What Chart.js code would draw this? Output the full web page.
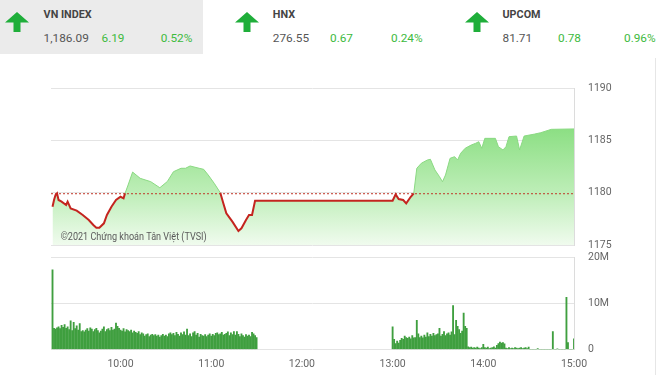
<!DOCTYPE html>
<html>
<head>
<meta charset="utf-8">
<script src="https://cdn.jsdelivr.net/npm/chart.js@4.4.0/dist/chart.umd.min.js"></script>
<style>
  body { margin: 0; width: 660px; height: 375px; background: #fff; font-family: Roboto, 'Noto Sans', sans-serif; overflow: hidden; position: relative; }
  .panel-bg { position: absolute; left: 0; top: 0; width: 203px; height: 54px; background: #ebebeb; }
  .arrow { position: absolute; top: 12px; width: 24px; height: 20px; }
  .txt { position: absolute; white-space: nowrap; line-height: 1; }
  .name { font-weight: bold; font-size: 10.8px; color: #444; top: 10.2px; }
  .val { font-size: 11.8px; color: #555; top: 33.4px; }
  .up { color: #3dba3d; }
  .side { position: absolute; left: 655px; top: 58px; width: 1px; height: 317px; background: #e6e6e6; }
  canvas { position: absolute; left: 0; }
</style>
</head>
<body>
<div class="panel-bg"></div>
<div id="header"></div>
<div class="side"></div>
<canvas id="priceChart" width="660" height="176" style="top:78px"></canvas>
<canvas id="volumeChart" width="660" height="125" style="top:250px"></canvas>
<script>
// header data
const indexNames = ['VN INDEX', 'HNX', 'UPCOM'];
const indexValues = ['1,186.09', '276.55', '81.71'];
const indexChanges = ['6.19', '0.67', '0.78'];
const indexPercents = ['0.52%', '0.24%', '0.96%'];

// price line (time, index value)
const lineTimes = [
  '9:15', '9:16', '9:17', '9:18', '9:19', '9:21', '9:24', '9:25', '9:27', '9:31',
  '9:35', '9:39', '9:42', '9:44', '9:46', '9:49', '9:51', '9:54', '9:57', '10:00',
  '10:02', '10:03', '10:05', '10:08', '10:13', '10:20', '10:26', '10:31', '10:35', '10:40',
  '10:43', '10:46', '10:52', '10:55', '10:58', '11:02', '11:06', '11:08', '11:10', '11:14',
  '11:18', '11:20', '11:23', '11:25', '11:27', '11:29', '11:30',
  '13:00', '13:02', '13:04', '13:07', '13:09', '13:12', '13:14', '13:16', '13:19', '13:23',
  '13:25', '13:28', '13:31', '13:33', '13:35', '13:38', '13:41', '13:43', '13:45', '13:48',
  '13:52', '13:55', '13:57', '13:59', '14:01', '14:08', '14:10', '14:13', '14:15', '14:17',
  '14:22', '14:24', '14:27', '14:34', '14:38', '14:45', '15:00'
];
const lineValues = [
  1178.66, 1179.30, 1179.78, 1179.94, 1179.30, 1179.14, 1178.82, 1179.14, 1178.50, 1178.28,
  1177.87, 1177.39, 1176.91, 1176.65, 1176.65, 1177.07, 1177.87, 1178.66, 1179.30, 1179.61,
  1179.46, 1179.94, 1180.73, 1181.97, 1181.37, 1181.05, 1180.47, 1181.07, 1182.00, 1182.33,
  1182.33, 1182.55, 1182.33, 1182.23, 1181.69, 1180.89, 1180.00, 1178.98, 1178.03, 1177.23,
  1176.34, 1176.60, 1177.39, 1177.87, 1177.87, 1179.23, 1179.23,
  1179.23, 1179.84, 1179.39, 1179.30, 1178.98, 1179.61, 1179.94, 1182.33, 1182.81, 1183.12,
  1183.19, 1182.17, 1181.53, 1181.05, 1181.69, 1183.28, 1183.44, 1183.12, 1183.76, 1184.24,
  1184.55, 1184.72, 1184.87, 1184.24, 1185.19, 1185.19, 1184.39, 1184.08, 1184.39, 1185.35,
  1185.41, 1184.08, 1185.41, 1185.60, 1185.73, 1186.05, 1186.09
];
const refValue = 1179.90;
const priceTicks = [1175, 1180, 1185, 1190];

// volume per minute, in millions
const volAmStart = '9:15';
const volAm = [
  17.2,
  4.6, 4.4, 4.7, 4.9, 4.5, 5.2, 4.8, 5.4, 4.6, 4.9,
  4.3, 6.2, 4.1, 5.9, 4.5, 5.1, 4.2, 5.6, 3.9, 4.1,
  3.8, 4.2, 4.5, 4.0, 4.7, 4.4, 3.9, 4.3, 4.6, 4.1,
  3.6, 4.0, 4.4, 4.9, 3.9, 4.3, 4.5, 4.1, 4.8, 4.2,
  4.4, 5.7, 5.0, 4.6, 4.2, 4.0, 4.5, 3.8, 4.3, 4.1,
  3.9, 4.2, 3.6, 4.0, 3.7, 3.5, 3.9, 3.2, 3.6, 3.4,
  2.9, 3.2, 3.4, 2.8, 3.1, 3.3, 3.0, 3.2, 2.9, 3.1,
  2.7, 3.0, 3.3, 2.9, 3.1, 2.8, 3.4, 3.6, 3.2, 3.5,
  3.0, 3.7, 3.3, 2.9, 3.6, 3.2, 3.8, 3.1, 4.4, 3.0,
  3.4, 2.8, 3.6, 3.9, 3.1, 3.5, 2.7, 3.3, 3.0, 2.9,
  3.2, 2.8, 3.1, 3.4, 2.9, 3.3, 3.0, 3.5, 3.6, 3.2,
  3.4, 3.7, 3.1, 3.3, 3.5, 3.8, 3.0, 3.6, 3.2, 3.9,
  3.1, 3.9, 3.3, 2.8, 3.4, 3.0, 2.7, 3.2, 2.9, 3.1,
  2.8, 3.7, 3.4, 3.0, 2.6
];
const volPmStart = '13:00';
const volPm = [
  4.9, 2.2, 1.3, 1.8, 1.4, 2.0, 2.4, 2.2, 2.9, 2.6,
  2.4, 2.7, 2.3, 3.0, 2.5, 2.6, 6.3, 3.4, 2.6, 2.9,
  2.5, 3.1, 2.7, 3.6, 2.8, 3.3, 2.9, 3.5, 3.0, 3.2,
  3.4, 4.6, 2.9, 3.3, 3.9, 3.0, 3.4, 3.6, 3.1, 3.8,
  9.5, 3.2, 6.3, 5.0, 4.3, 3.5, 4.0, 7.9, 5.0, 4.6,
  0.6, 0.4, 0.5, 0.3, 0.4, 0.3, 0.5, 0.3, 0.2, 0.4,
  1.1, 0.4, 0.3, 0.5, 0.2, 0.3, 0.4, 0.6, 0.3, 0.9,
  1.3, 1.6, 1.4, 1.5, 1.2, 0.3, 0.2, 0.4, 0.2, 0.3,
  0.2, 0.4, 0.3, 0.2, 0.3, 0.4, 0.2, 0.3, 0.4, 0.2,
  0.5, 0, 0, 0, 0, 0, 0.2, 0, 0, 0,
  0, 0, 0, 0, 0, 0, 3.9, 0, 0, 0.15,
  0, 0, 0, 0, 0, 11.3, 1.5, 0, 0, 0,
  2.3
];
const volTicks = [0, 10, 20];
const volTickLabels = ['0', '10M', '20M'];

const xTickLabels = ['10:00', '11:00', '12:00', '13:00', '14:00', '15:00'];
const xStart = '9:14';
const xEnd = '15:00';

function toMin(s) {
  const [h, m] = s.split(':').map(Number);
  return h * 60 + m;
}
function fmtTime(v) {
  const h = Math.floor(v / 60);
  const m = v % 60;
  return h + ':' + String(m).padStart(2, '0');
}

// header
const arrowLeft = [5, 235, 465];
const nameLeft = [43.6, 272.8, 502.5];
const changeLeft = [101.5, 330, 558];
const pctLeft = [160.7, 391, 624];
const header = document.getElementById('header');
let html = '';
indexNames.forEach((name, i) => {
  html += `<svg class="arrow" style="left:${arrowLeft[i]}px" viewBox="0 0 24 20"><polygon points="12,0 24,10.5 15.5,10.5 15.5,20 8.5,20 8.5,10.5 0,10.5" fill="#1fae3a"/></svg>`;
  html += `<div class="txt name" style="left:${nameLeft[i]}px">${name}</div>`;
  html += `<div class="txt val" style="left:${nameLeft[i]}px">${indexValues[i]}</div>`;
  html += `<div class="txt val up" style="left:${changeLeft[i]}px">${indexChanges[i]}</div>`;
  html += `<div class="txt val up" style="left:${pctLeft[i]}px">${indexPercents[i]}</div>`;
});
header.innerHTML = html;

const xMin = toMin(xStart);
const xMax = toMin(xEnd);
const hourTicks = xTickLabels.map(toMin);

const xScale = (display) => ({
  type: 'linear',
  min: xMin,
  max: xMax,
  offset: false,
  display: display,
  afterBuildTicks: (scale) => {
    scale.ticks = hourTicks.map((v) => ({ value: v }));
  },
  afterFit: (scale) => {
    scale.height = display ? 21 : 0;
  },
  grid: { display: false, drawTicks: false },
  border: { display: false },
  ticks: {
    callback: (v) => fmtTime(v),
    color: '#666',
    font: { family: 'Roboto', size: 10.5 },
    padding: 9,
    maxRotation: 0,
  },
});

// right axis: labels pushed out by an invisible tick so no extra vertical padding
const yAxis = (ticks, labels) => ({
  position: 'right',
  min: ticks[0],
  max: ticks[ticks.length - 1],
  afterBuildTicks: (scale) => {
    scale.ticks = ticks.map((v) => ({ value: v }));
  },
  afterFit: (scale) => {
    scale.width = 86;
  },
  grid: { color: '#e4e4e4', drawTicks: true, tickLength: 14, tickColor: 'rgba(0,0,0,0)' },
  border: { color: '#dcdcdc' },
  ticks: {
    callback: (v) => labels[ticks.indexOf(v)],
    color: '#666',
    font: { family: 'Roboto', size: 10.5 },
    padding: 0,
  },
});

// watermark
const watermark = {
  id: 'watermark',
  afterDatasetsDraw(chart) {
    const c = chart.ctx;
    c.save();
    c.font = '11px Roboto';
    c.fillStyle = '#5a5a5a';
    c.textBaseline = 'middle';
    const text = '©2021 Chứng khoán Tân Việt (TVSI)';
    const w = c.measureText(text).width;
    c.translate(60.7, 159.7);
    c.scale(146 / w, 1);
    c.fillText(text, 0, 0);
    c.restore();
  },
};

const greenLine = '#8ad982';
const redLine = '#c4241f';
const isUp = (ctx) => ctx.p0.parsed.y >= refValue - 0.05 && ctx.p1.parsed.y >= refValue - 0.05;
const pricePoints = lineTimes.map((t, i) => ({ x: toMin(t), y: lineValues[i] }));

const priceChart = new Chart(document.getElementById('priceChart'), {
  type: 'line',
  data: {
    datasets: [
      {
        // reference (previous close)
        data: [{ x: xMin, y: refValue }, { x: xMax, y: refValue }],
        borderColor: '#c0392b',
        borderWidth: 1,
        borderDash: [2, 2],
        pointRadius: 0,
        fill: false,
        order: 1,
      },
      {
        // price line, red under reference
        data: pricePoints,
        pointRadius: 0,
        tension: 0,
        order: 0,
        fill: false,
        borderWidth: 2,
        borderColor: redLine,
        segment: {
          borderColor: (ctx) => (isUp(ctx) ? greenLine : redLine),
          borderWidth: (ctx) => (isUp(ctx) ? 1 : 2),
        },
      },
      {
        // area under the price
        data: pricePoints,
        pointRadius: 0,
        tension: 0,
        order: 2,
        fill: 'start',
        borderWidth: 0,
        backgroundColor: (ctx) => {
          const area = ctx.chart.chartArea;
          if (!area) return '#bfeeb9';
          const g = ctx.chart.ctx.createLinearGradient(0, area.top, 0, area.bottom);
          g.addColorStop(0, 'rgb(108,213,98)');
          g.addColorStop(0.67, 'rgb(190,238,184)');
          g.addColorStop(1, 'rgb(240,251,238)');
          return g;
        },
      },
    ],
  },
  options: {
    animation: false,
    responsive: false,
    devicePixelRatio: 1,
    layout: { padding: { top: 10, bottom: 9, left: 51, right: 0 } },
    plugins: { legend: { display: false }, tooltip: { enabled: false } },
    scales: {
      x: xScale(false),
      y: yAxis(priceTicks, priceTicks.map(String)),
    },
  },
  plugins: [watermark],
});

const volumeData = [];
volAm.forEach((v, i) => volumeData.push({ x: toMin(volAmStart) + i, y: v }));
volPm.forEach((v, i) => volumeData.push({ x: toMin(volPmStart) + i, y: v }));

const volumeChart = new Chart(document.getElementById('volumeChart'), {
  type: 'bar',
  data: {
    datasets: [
      {
        data: volumeData,
        backgroundColor: '#3f9f3f',
        borderWidth: 0,
        barThickness: 1.2,
      },
    ],
  },
  options: {
    animation: false,
    responsive: false,
    devicePixelRatio: 1,
    layout: { padding: { top: 7, bottom: 4.5, left: 51, right: 0 } },
    plugins: { legend: { display: false }, tooltip: { enabled: false } },
    scales: {
      x: xScale(true),
      y: yAxis(volTicks, volTickLabels),
    },
  },
});
</script>
</body>
</html>
